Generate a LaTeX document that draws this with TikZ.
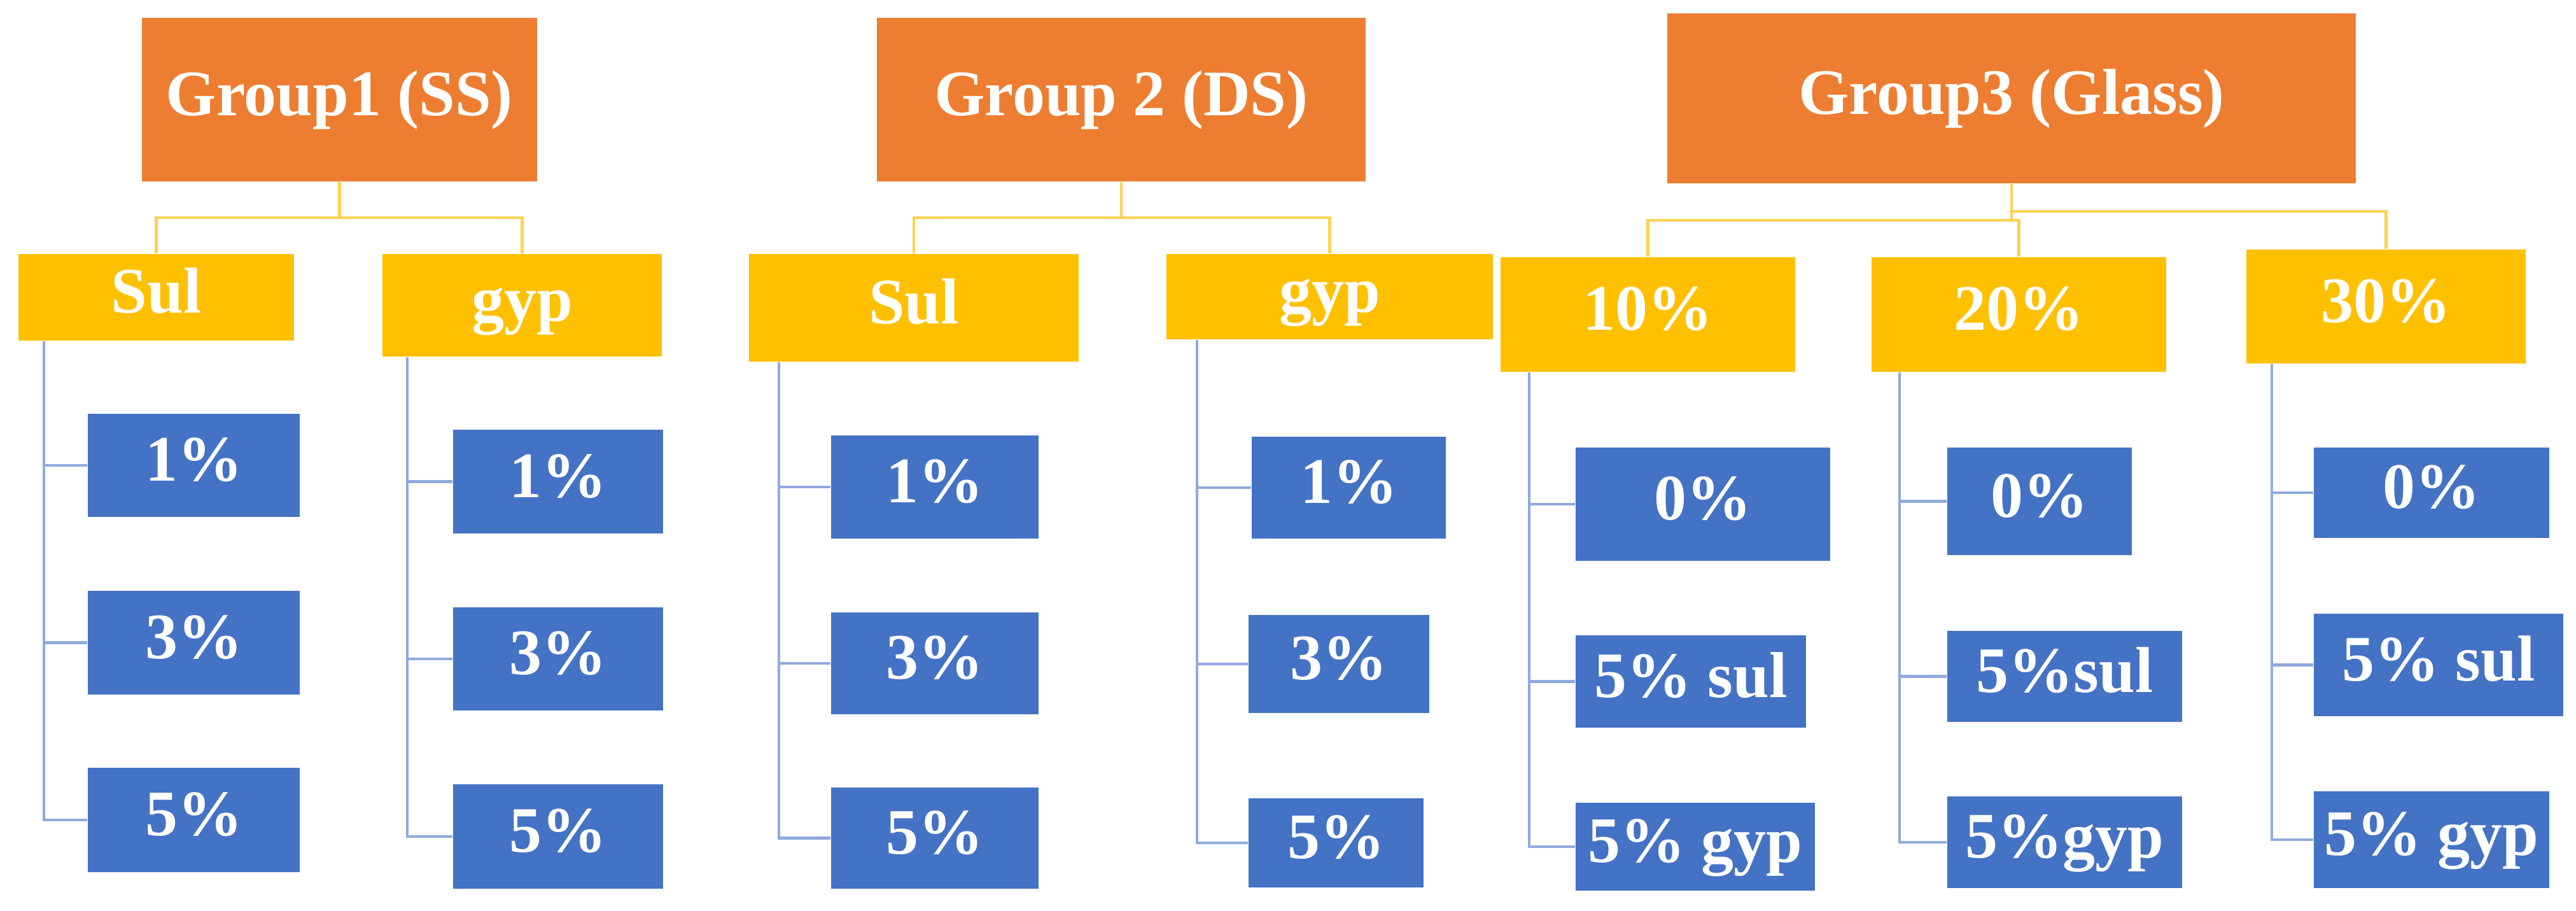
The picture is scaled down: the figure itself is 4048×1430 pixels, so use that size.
\documentclass[tikz,border=0pt]{standalone}
\usepackage{fontspec}
\setmainfont{Liberation Serif}
\usepackage{tikz}

\definecolor{grporange}{HTML}{ED7D31}
\definecolor{subgold}{HTML}{FFC000}
\definecolor{leafblue}{HTML}{4472C4}
\definecolor{linegold}{HTML}{FFD24F}
\definecolor{lineblue}{HTML}{8FAADC}

\tikzset{
  boxtext/.style={text=white, inner sep=0pt, text height=19pt, text depth=5pt,
    font=\fontsize{29}{33}\selectfont\bfseries},
  grp/.style={boxtext, fill=grporange},
  sub/.style={boxtext, fill=subgold},
  leaf/.style={boxtext, fill=leafblue},
  glink/.style={draw=linegold, line width=1.2pt},
  blink/.style={draw=lineblue, line width=1.2pt}
}

\begin{document}
\begin{tikzpicture}[x=0.01cm, y=-0.01cm]
  \useasboundingbox (0,0) rectangle (4048,1430);

  % Groups
  \node[grp, minimum width=6.21cm, minimum height=2.57cm] (g1) at (533.5,156.5) {Group1 (SS)};
  \node[grp, minimum width=7.68cm, minimum height=2.57cm] (g2) at (1762,156.5) {Group 2 (DS)};
  \node[grp, minimum width=10.82cm, minimum height=2.67cm] (g3) at (3161,154.5) {Group3 (Glass)};

  % Second level
  \node[sub, minimum width=4.33cm, minimum height=1.36cm] (s1) at (245.5,467) {Sul};
  \node[sub, minimum width=4.39cm, minimum height=1.61cm] (p1) at (820.5,479.5) {gyp};
  \node[sub, minimum width=5.18cm, minimum height=1.69cm] (s2) at (1436,483.5) {Sul};
  \node[sub, minimum width=5.13cm, minimum height=1.34cm] (p2) at (2089.5,466) {gyp};
  \node[sub, minimum width=4.63cm, minimum height=1.80cm] (t10) at (2589.5,494) {10\%};
  \node[sub, minimum width=4.63cm, minimum height=1.80cm] (t20) at (3172.5,494) {20\%};
  \node[sub, minimum width=4.39cm, minimum height=1.79cm] (t30) at (3749.5,481.5) {30\%};

  % Group1 leaves
  \node[leaf, minimum width=3.33cm, minimum height=1.62cm] (s1a) at (304.5,731) {1\%};
  \node[leaf, minimum width=3.33cm, minimum height=1.63cm] (s1b) at (304.5,1009.5) {3\%};
  \node[leaf, minimum width=3.33cm, minimum height=1.64cm] (s1c) at (304.5,1288) {5\%};
  \node[leaf, minimum width=3.30cm, minimum height=1.63cm] (p1a) at (877,756.5) {1\%};
  \node[leaf, minimum width=3.30cm, minimum height=1.62cm] (p1b) at (877,1035) {3\%};
  \node[leaf, minimum width=3.30cm, minimum height=1.64cm] (p1c) at (877,1314) {5\%};

  % Group2 leaves
  \node[leaf, minimum width=3.26cm, minimum height=1.62cm] (s2a) at (1469,765) {1\%};
  \node[leaf, minimum width=3.26cm, minimum height=1.60cm] (s2b) at (1469,1042) {3\%};
  \node[leaf, minimum width=3.26cm, minimum height=1.59cm] (s2c) at (1469,1316.5) {5\%};
  \node[leaf, minimum width=3.05cm, minimum height=1.60cm] (p2a) at (2119.5,766) {1\%};
  \node[leaf, minimum width=2.84cm, minimum height=1.54cm] (p2b) at (2104,1043) {3\%};
  \node[leaf, minimum width=2.75cm, minimum height=1.40cm] (p2c) at (2099.5,1324) {5\%};

  % Group3 leaves
  \node[leaf, minimum width=4.00cm, minimum height=1.78cm] (t10a) at (2676,792) {0\%};
  \node[leaf, minimum width=3.62cm, minimum height=1.45cm] (t10b) at (2657,1070.5) {5\% sul};
  \node[leaf, minimum width=3.76cm, minimum height=1.38cm] (t10c) at (2664,1330) {5\% gyp};
  \node[leaf, minimum width=2.90cm, minimum height=1.69cm] (t20a) at (3205,787.5) {0\%};
  \node[leaf, minimum width=3.69cm, minimum height=1.43cm] (t20b) at (3244.5,1062.5) {5\%sul};
  \node[leaf, minimum width=3.69cm, minimum height=1.44cm] (t20c) at (3244.5,1323) {5\%gyp};
  \node[leaf, minimum width=3.70cm, minimum height=1.42cm] (t30a) at (3821,774) {0\%};
  \node[leaf, minimum width=3.92cm, minimum height=1.61cm] (t30b) at (3832,1044.5) {5\% sul};
  \node[leaf, minimum width=3.70cm, minimum height=1.52cm] (t30c) at (3821,1319) {5\% gyp};

  % group to second level
  \draw[glink] (g1.south) -- ++(0,56) -| (s1.north);
  \draw[glink] (g1.south) -- ++(0,56) -| (p1.north);
  \draw[glink] (g2.south) -- ++(0,56) -| (s2.north);
  \draw[glink] (g2.south) -- ++(0,56) -| (p2.north);
  \draw[glink] (g3.south) -- ++(0,57) -| (t10.north);
  \draw[glink] (g3.south) -- ++(0,57) -| (t20.north);
  \draw[glink] (g3.south) -- ++(0,43) -| (t30.north);

  % second level to leaves
  \draw[blink] ([xshift=4.1mm]s1.south west) |- (s1a.west);
  \draw[blink] ([xshift=4.1mm]s1.south west) |- (s1b.west);
  \draw[blink] ([xshift=4.1mm]s1.south west) |- (s1c.west);
  \draw[blink] ([xshift=4.0mm]p1.south west) |- (p1a.west);
  \draw[blink] ([xshift=4.0mm]p1.south west) |- (p1b.west);
  \draw[blink] ([xshift=4.0mm]p1.south west) |- (p1c.west);
  \draw[blink] ([xshift=4.8mm]s2.south west) |- (s2a.west);
  \draw[blink] ([xshift=4.8mm]s2.south west) |- (s2b.west);
  \draw[blink] ([xshift=4.8mm]s2.south west) |- (s2c.west);
  \draw[blink] ([xshift=4.9mm]p2.south west) |- (p2a.west);
  \draw[blink] ([xshift=4.9mm]p2.south west) |- (p2b.west);
  \draw[blink] ([xshift=4.9mm]p2.south west) |- (p2c.west);
  \draw[blink] ([xshift=4.6mm]t10.south west) |- (t10a.west);
  \draw[blink] ([xshift=4.6mm]t10.south west) |- (t10b.west);
  \draw[blink] ([xshift=4.6mm]t10.south west) |- (t10c.west);
  \draw[blink] ([xshift=4.5mm]t20.south west) |- (t20a.west);
  \draw[blink] ([xshift=4.5mm]t20.south west) |- (t20b.west);
  \draw[blink] ([xshift=4.5mm]t20.south west) |- (t20c.west);
  \draw[blink] ([xshift=4.1mm]t30.south west) |- (t30a.west);
  \draw[blink] ([xshift=4.1mm]t30.south west) |- (t30b.west);
  \draw[blink] ([xshift=4.1mm]t30.south west) |- (t30c.west);
\end{tikzpicture}
\end{document}
